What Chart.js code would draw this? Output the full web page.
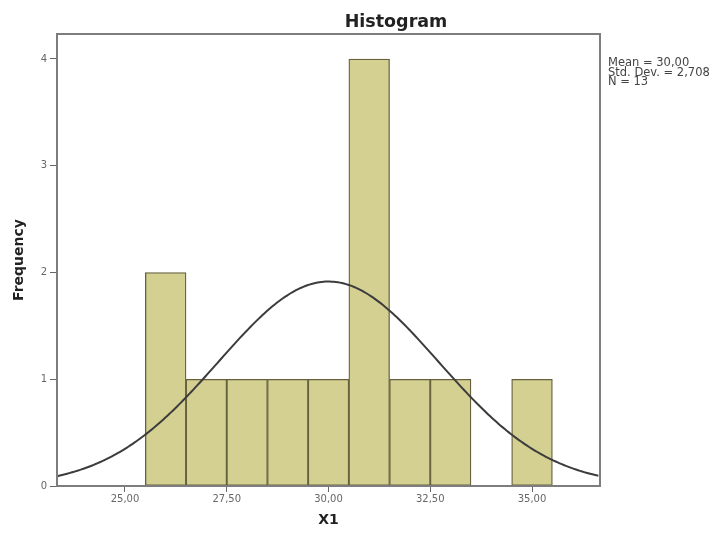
<!DOCTYPE html>
<html><head><meta charset="utf-8">
<script src="https://cdn.jsdelivr.net/npm/chart.js@4/dist/chart.umd.min.js"></script>
<style>html,body{margin:0;padding:0;background:#fff;}#wrap{width:721px;height:534px;}</style>
</head><body><div id="wrap"><canvas id="c" width="721" height="534"></canvas></div>
<script>
// ---- data ----
const chartTitle = "Histogram";
const xTitle = "X1";
const yTitle = "Frequency";
const binCenters = [26, 27, 28, 29, 30, 31, 32, 33, 34, 35];
const frequencies = [2, 1, 1, 1, 1, 4, 1, 1, 0, 1];
const xTickValues = [25, 27.5, 30, 32.5, 35];
const xTickLabels = ["25,00", "27,50", "30,00", "32,50", "35,00"];
const yTickValues = [0, 1, 2, 3, 4];
const statLabels = ["Mean = 30,00", "Std. Dev. = 2,708", "N = 13"];
const mean = 30.00, stdDev = 2.708, nObs = 13, binWidth = 1;
const xMin = 23.33, xMax = 36.67, yMax = 4.234;

// normal curve fitted from the stated statistics
const curvePoints = [];
for (let x = xMin; x <= xMax + 1e-9; x += 0.05) {
  const z = (x - mean) / stdDev;
  curvePoints.push({x: x, y: nObs * binWidth * Math.exp(-0.5 * z * z) / (stdDev * Math.sqrt(2 * Math.PI))});
}
const barPoints = binCenters.map((x, i) => ({x: x, y: frequencies[i]}));

const frame = {
  id: 'frame',
  afterDatasetsDraw(chart) {
    const {ctx, chartArea: a} = chart;
    ctx.save();
    ctx.strokeStyle = '#7d7d7d';
    ctx.lineWidth = 2;
    ctx.strokeRect(a.left, a.top, a.right - a.left, a.bottom - a.top);
    ctx.restore();
  },
  afterDraw(chart) {
    const {ctx, chartArea: a} = chart;
    ctx.save();
    ctx.fillStyle = '#222';
    ctx.font = 'bold 17.5px "DejaVu Sans"';
    ctx.textAlign = 'center';
    ctx.textBaseline = 'alphabetic';
    ctx.fillText(chartTitle, 396, 27);
    ctx.font = '11.5px "DejaVu Sans"';
    ctx.fillStyle = '#444';
    ctx.textAlign = 'left';
    statLabels.forEach((t, i) => ctx.fillText(t, a.right + 8, 66 + i * 9.5));
    ctx.restore();
  }
};

new Chart(document.getElementById('c'), {
  type: 'bar',
  data: {
    datasets: [
      {
        type: 'line',
        data: curvePoints,
        borderColor: '#3c3c3c',
        borderWidth: 2,
        pointRadius: 0,
        fill: false,
        tension: 0,
        order: 0
      },
      {
        type: 'bar',
        data: barPoints,
        backgroundColor: '#d4d091',
        borderColor: '#65613f',
        borderWidth: 1.3,
        borderSkipped: false,
        barPercentage: 1,
        categoryPercentage: 1,
        order: 1
      }
    ]
  },
  options: {
    responsive: false,
    animation: false,
    devicePixelRatio: 1,
    layout: {padding: {left: 0, top: 34, right: 121, bottom: 0}},
    plugins: {legend: {display: false}, tooltip: {enabled: false}, title: {display: false}},
    scales: {
      x: {
        type: 'linear',
        min: xMin,
        max: xMax,
        offset: false,
        afterBuildTicks: (s) => { s.ticks = xTickValues.map(v => ({value: v})); },
        afterFit: (s) => { s.height = 48; },
        ticks: {
          autoSkip: false,
          maxRotation: 0,
          padding: 1,
          color: '#666',
          font: {family: '"DejaVu Sans"', size: 10},
          callback: (v) => xTickLabels[xTickValues.indexOf(v)]
        },
        grid: {display: true, drawOnChartArea: false, drawTicks: true, tickLength: 6, color: '#666', offset: false},
        border: {display: false},
        title: {display: true, text: xTitle, color: '#222', font: {family: '"DejaVu Sans"', size: 14, weight: 'bold'}, padding: {top: 0, bottom: 5}}
      },
      y: {
        min: 0,
        max: yMax,
        afterBuildTicks: (s) => { s.ticks = yTickValues.map(v => ({value: v})); },
        afterFit: (s) => { s.width = 57; },
        ticks: {
          padding: 3,
          color: '#666',
          font: {family: '"DejaVu Sans"', size: 10}
        },
        grid: {display: true, drawOnChartArea: false, drawTicks: true, tickLength: 7, color: '#666'},
        border: {display: false},
        title: {display: true, text: yTitle, color: '#222', font: {family: '"DejaVu Sans"', size: 14, weight: 'bold'}, padding: {top: 11, bottom: 0}}
      }
    }
  },
  plugins: [frame]
});
</script>
</body></html>
